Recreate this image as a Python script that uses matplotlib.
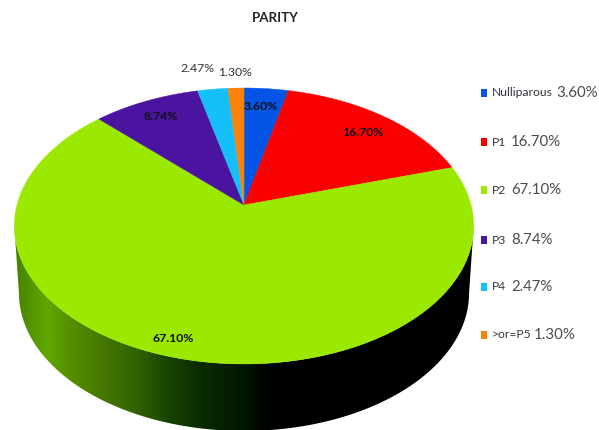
import numpy as np
import matplotlib
matplotlib.use("Agg")
import matplotlib.pyplot as plt
from matplotlib.colors import LinearSegmentedColormap
from matplotlib.patches import Polygon, Rectangle

categories = ["Nulliparous", "P1", "P2", "P3", "P4", ">or=P5"]
values = [3.60, 16.70, 67.10, 8.74, 2.47, 1.30]
colors = ["#0455e6", "#fa0000", "#9be800", "#4b14a0", "#14bffa", "#fa820a"]
value_labels = ["3.60%", "16.70%", "67.10%", "8.74%", "2.47%", "1.30%"]
title = "PARITY"

# Pie geometry in pixel-like axes units
CX, CY = 244, 205
SX, SY, TILT = 227, 134.8, 0.152
DEPTH = 67


def project(theta):
    """Map a clockwise angle from 12 o'clock onto the tilted disc."""
    x, y = np.sin(theta), np.cos(theta)
    w = 1 + TILT * y
    return CX + SX * x / w, CY - SY * y / w


plt.rcParams["font.family"] = ["Lato", "DejaVu Sans"]
fig = plt.figure(figsize=(5.99, 4.30), dpi=100)
ax = fig.add_axes([0, 0, 1, 1])

# Side wall: horizontal shading clipped to the rim band
side_cmap = LinearSegmentedColormap.from_list(
    "side",
    [(0.00, "#468200"), (0.07, "#5fa800"), (0.12, "#558f00"), (0.19, "#467800"),
     (0.26, "#326400"), (0.33, "#194600"), (0.40, "#0a2d00"), (0.48, "#031c00"),
     (0.56, "#000000"), (1.00, "#000000")],
)
# The rim's widest points on the tilted disc fall where cos(theta) = -TILT
widest = np.arccos(-TILT)
rim = np.linspace(widest, 2 * np.pi - widest, 300)
rx, ry = project(rim)
# The lower rim sits directly below the upper one and narrows slightly
bx = CX + (rx - CX) * 0.98
by = ry + DEPTH
side = Polygon(np.r_[np.c_[rx, ry], np.c_[bx, by][::-1]], closed=True,
               fc="none", ec="none")
ax.add_patch(side)
shade = ax.imshow(np.linspace(0, 1, 512)[None, :], cmap=side_cmap, aspect="auto",
                  extent=(rx.min(), rx.max(), by.max(), ry.min()), zorder=1)
shade.set_clip_path(side)

# Top face wedges, clockwise from 12 o'clock
edges = np.cumsum([0] + values) / sum(values) * 2 * np.pi
for start, stop, color in zip(edges[:-1], edges[1:], colors):
    th = np.linspace(start, stop, 200)
    wx, wy = project(th)
    ax.add_patch(Polygon(np.r_[[[CX, CY]], np.c_[wx, wy]], closed=True, fc=color,
                         ec=color, lw=0.3, zorder=2))

# Percentage labels on and around the pie
label_xy = [(261, 107), (363, 132), (173, 339), (161, 117), (197, 69), (235, 73)]
label_dark = [True, True, True, True, False, False]
for text, (x, y), dark in zip(value_labels, label_xy, label_dark):
    ax.text(x, y, text, ha="center", va="center", fontsize=8.8, zorder=3,
            color="#101018" if dark else "#33333b",
            fontweight="bold" if dark else "normal")

ax.text(275, 18, title, ha="center", va="center", fontsize=9.6, fontweight="bold",
        color="#222228")

# Legend: swatch, name, then a larger percentage
legend_y = [93, 142, 190, 240, 287, 335]
value_x = [556, 511, 511, 511, 511, 534]
for name, text, color, y, vx in zip(categories, value_labels, colors, legend_y, value_x):
    ax.add_patch(Rectangle((481, y - 4), 6, 8, fc=color, ec="none"))
    ax.text(492, y, name, ha="left", va="center", fontsize=8.7, color="#33333d")
    ax.text(vx, y, text, ha="left", va="center", fontsize=10.8, color="#4a4a52")

ax.set_xlim(0, 599)
ax.set_ylim(430, 0)
ax.axis("off")
fig.savefig("out.png", dpi=100, facecolor="white")
